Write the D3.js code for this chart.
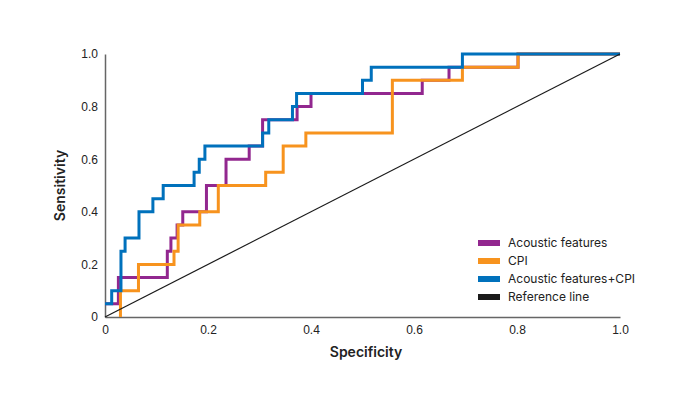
<!DOCTYPE html>
<html>
<head>
<meta charset="utf-8">
<script src="https://cdn.jsdelivr.net/npm/d3@7"></script>
<style>
  body { margin: 0; background: #fff; }
  svg { font-family: Inter, "Noto Sans", sans-serif; }
  .axis path { stroke: #666; stroke-width: 1.5; }
  .axis text { font-size: 12px; fill: #222; }
</style>
</head>
<body>
<div id="chart"></div>
<script>
// ROC corner points: [1 - specificity, sensitivity], step drawn horizontal then vertical
const acoustic = [[0, 0.05], [0.026, 0.15], [0.121, 0.25], [0.128, 0.3], [0.14, 0.35], [0.151, 0.4], [0.197, 0.5],
    [0.235, 0.6], [0.28, 0.65], [0.306, 0.75], [0.373, 0.8], [0.4, 0.85], [0.616, 0.9], [0.668, 0.95], [0.802, 1.0], [1.0, 1.0]]
const cpi = [[0.03, 0], [0.03, 0.1], [0.065, 0.2], [0.134, 0.25], [0.142, 0.35], [0.184, 0.4], [0.22, 0.5],
    [0.312, 0.55], [0.346, 0.65], [0.39, 0.7], [0.558, 0.9], [0.694, 0.95], [0.802, 1.0], [1.0, 1.0]]
const combined = [[0, 0.05], [0.013, 0.1], [0.031, 0.25], [0.039, 0.3], [0.066, 0.4], [0.093, 0.45], [0.113, 0.5],
    [0.173, 0.55], [0.183, 0.6], [0.194, 0.65], [0.306, 0.7], [0.318, 0.75], [0.364, 0.8], [0.372, 0.85],
    [0.5, 0.9], [0.517, 0.95], [0.694, 1.0], [1.0, 1.0]]
const reference = [[0, 0], [1, 1]]

const ticks = [0, 0.2, 0.4, 0.6, 0.8, 1.0]
const seriesNames = ["Acoustic features", "CPI", "Acoustic features+CPI", "Reference line"]
const seriesColors = ["#92278f", "#f7931e", "#0071bc", "#1a1a1a"]

const width = 689
const height = 410
const mLeft = 105, mRight = 620, mTop = 54, mBottom = 317

const svg = d3.select("#chart").append("svg").attr("width", width).attr("height", height)

const x = d3.scaleLinear().domain([0, 1]).range([mLeft, mRight])
const y = d3.scaleLinear().domain([0, 1]).range([mBottom, mTop])
const fmt = d => d === 0 ? "0" : d3.format(".1f")(d)

svg.append("g").attr("class", "axis").attr("transform", `translate(0,${mBottom})`)
    .call(d3.axisBottom(x).tickValues(ticks).tickSize(0).tickPadding(8).tickFormat(fmt))
svg.append("g").attr("class", "axis").attr("transform", `translate(${mLeft},0)`)
    .call(d3.axisLeft(y).tickValues(ticks).tickSize(0).tickPadding(7).tickFormat(fmt))

svg.append("text").attr("x", 366).attr("y", 357).attr("text-anchor", "middle")
    .style("font-size", "14px").style("font-weight", 600).style("fill", "#222").text("Specificity")
svg.append("text").attr("transform", `translate(65,${(mTop + mBottom) / 2}) rotate(-90)`).attr("text-anchor", "middle")
    .style("font-size", "14px").style("font-weight", 600).style("fill", "#222").text("Sensitivity")

const step = d3.line().x(d => x(d[0])).y(d => y(d[1])).curve(d3.curveStepAfter)

;[acoustic, cpi, combined].forEach((s, i) => {
    svg.append("path").datum(s).attr("d", step).attr("fill", "none")
        .attr("stroke", seriesColors[i]).attr("stroke-width", 3)
})
svg.append("path").datum(reference).attr("d", d3.line().x(d => x(d[0])).y(d => y(d[1])))
    .attr("fill", "none").attr("stroke", seriesColors[3]).attr("stroke-width", 1.2)

// legend
const legend = svg.append("g").attr("transform", "translate(478,243)")
seriesNames.forEach((name, i) => {
    legend.append("rect").attr("x", 0).attr("y", i * 18 - 3).attr("width", 22).attr("height", 6).attr("fill", seriesColors[i])
    legend.append("text").attr("x", 30).attr("y", i * 18).attr("dy", "0.35em")
        .style("font-size", "12px").style("fill", "#222").text(name)
})
</script>
</body>
</html>
